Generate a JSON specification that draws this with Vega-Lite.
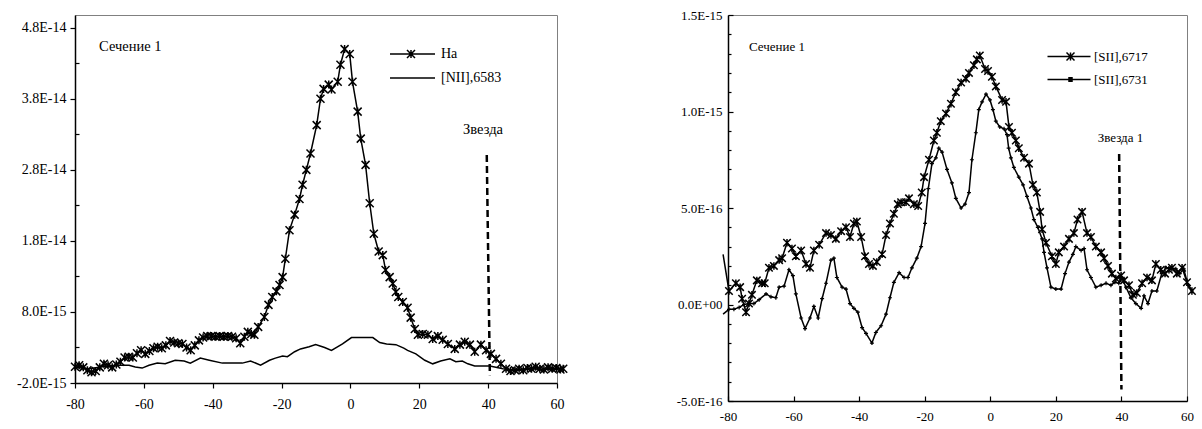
{
  "$schema": "https://vega.github.io/schema/vega-lite/v6.json",
  "background": "white",
  "padding": {"left": 16, "top": 8, "right": 5, "bottom": 5},
  "spacing": 102,
  "resolve": {"scale": {"color": "independent"}, "legend": {"color": "independent"}},
  "config": {
    "font": "Liberation Serif",
    "view": {"stroke": "#808080", "strokeWidth": 1},
    "axis": {"grid": false, "domainColor": "black", "tickColor": "black", "labelColor": "black", "labelFont": "Liberation Serif", "title": null, "domainWidth": 1.5, "tickWidth": 1.2, "labelOverlap": false, "labelBound": false, "labelFlush": false},
    "legend": {"labelFont": "Liberation Serif", "labelColor": "black", "padding": 0}
  },
  "datasets": {
    "left": [
      {"series":"Ha","x":-80,"y":0.3e-15},{"series":"Ha","x":-78.8,"y":0.5e-15},{"series":"Ha","x":-77.6,"y":0.2e-15},{"series":"Ha","x":-76.4,"y":-0.2e-15},{"series":"Ha","x":-75.2,"y":-0.5e-15},{"series":"Ha","x":-74,"y":-0.3e-15},{"series":"Ha","x":-72.8,"y":0.2e-15},{"series":"Ha","x":-71.6,"y":0.7e-15},{"series":"Ha","x":-70.4,"y":0.5e-15},{"series":"Ha","x":-69.2,"y":0.2e-15},{"series":"Ha","x":-68,"y":0.6e-15},{"series":"Ha","x":-66.8,"y":1.0e-15},{"series":"Ha","x":-65.6,"y":1.6e-15},{"series":"Ha","x":-64.4,"y":1.7e-15},{"series":"Ha","x":-63.2,"y":1.6e-15},{"series":"Ha","x":-62,"y":2.2e-15},{"series":"Ha","x":-60.8,"y":2.6e-15},{"series":"Ha","x":-59.6,"y":2.1e-15},{"series":"Ha","x":-58.4,"y":2.5e-15},{"series":"Ha","x":-57.2,"y":2.9e-15},{"series":"Ha","x":-56,"y":3.1e-15},{"series":"Ha","x":-54.8,"y":2.9e-15},{"series":"Ha","x":-53.6,"y":3.3e-15},{"series":"Ha","x":-52.4,"y":3.9e-15},{"series":"Ha","x":-51.2,"y":3.7e-15},{"series":"Ha","x":-50,"y":3.6e-15},{"series":"Ha","x":-48.8,"y":3.5e-15},{"series":"Ha","x":-47.6,"y":3.0e-15},{"series":"Ha","x":-46.4,"y":2.6e-15},{"series":"Ha","x":-45.2,"y":3.3e-15},{"series":"Ha","x":-44,"y":4.0e-15},{"series":"Ha","x":-42.8,"y":4.4e-15},{"series":"Ha","x":-41.6,"y":4.6e-15},{"series":"Ha","x":-40.4,"y":4.6e-15},{"series":"Ha","x":-39.2,"y":4.5e-15},{"series":"Ha","x":-38,"y":4.6e-15},{"series":"Ha","x":-36.8,"y":4.5e-15},{"series":"Ha","x":-35.6,"y":4.6e-15},{"series":"Ha","x":-34.4,"y":4.5e-15},{"series":"Ha","x":-33.2,"y":4.3e-15},{"series":"Ha","x":-32,"y":3.6e-15},{"series":"Ha","x":-30.8,"y":4.5e-15},{"series":"Ha","x":-29.8,"y":5.2e-15},{"series":"Ha","x":-28.8,"y":4.9e-15},{"series":"Ha","x":-27.9,"y":4.8e-15},{"series":"Ha","x":-26.8,"y":5.9e-15},{"series":"Ha","x":-25,"y":7.3e-15},{"series":"Ha","x":-23.8,"y":9.0e-15},{"series":"Ha","x":-22.7,"y":10.1e-15},{"series":"Ha","x":-21.5,"y":10.9e-15},{"series":"Ha","x":-20.6,"y":11.8e-15},{"series":"Ha","x":-19.7,"y":12.9e-15},{"series":"Ha","x":-18.9,"y":15.5e-15},{"series":"Ha","x":-17.7,"y":19.5e-15},{"series":"Ha","x":-16.2,"y":21.7e-15},{"series":"Ha","x":-14.8,"y":23.9e-15},{"series":"Ha","x":-13.9,"y":25.9e-15},{"series":"Ha","x":-12.8,"y":28.0e-15},{"series":"Ha","x":-11.6,"y":30.3e-15},{"series":"Ha","x":-9.8,"y":34.3e-15},{"series":"Ha","x":-8.7,"y":38.0e-15},{"series":"Ha","x":-7.8,"y":39.4e-15},{"series":"Ha","x":-6.3,"y":40.0e-15},{"series":"Ha","x":-5.5,"y":39.3e-15},{"series":"Ha","x":-3.7,"y":40.4e-15},{"series":"Ha","x":-2.9,"y":42.8e-15},{"series":"Ha","x":-1.7,"y":45.0e-15},{"series":"Ha","x":-0.2,"y":44.3e-15},{"series":"Ha","x":0.6,"y":40.4e-15},{"series":"Ha","x":2.1,"y":36.2e-15},{"series":"Ha","x":3.0,"y":32.4e-15},{"series":"Ha","x":4.4,"y":28.7e-15},{"series":"Ha","x":5.6,"y":23.3e-15},{"series":"Ha","x":6.8,"y":19.0e-15},{"series":"Ha","x":8.2,"y":16.5e-15},{"series":"Ha","x":9.4,"y":16.0e-15},{"series":"Ha","x":10.2,"y":13.9e-15},{"series":"Ha","x":11.4,"y":12.9e-15},{"series":"Ha","x":12.3,"y":12.0e-15},{"series":"Ha","x":13.2,"y":10.8e-15},{"series":"Ha","x":13.9,"y":10.1e-15},{"series":"Ha","x":15.2,"y":9.4e-15},{"series":"Ha","x":16.6,"y":8.6e-15},{"series":"Ha","x":17.5,"y":7.2e-15},{"series":"Ha","x":18.7,"y":5.6e-15},{"series":"Ha","x":19.6,"y":4.8e-15},{"series":"Ha","x":21,"y":4.9e-15},{"series":"Ha","x":22.5,"y":4.8e-15},{"series":"Ha","x":23.9,"y":4.2e-15},{"series":"Ha","x":25.4,"y":4.6e-15},{"series":"Ha","x":26.8,"y":4.1e-15},{"series":"Ha","x":28.3,"y":3.5e-15},{"series":"Ha","x":30.3,"y":2.8e-15},{"series":"Ha","x":31.8,"y":3.4e-15},{"series":"Ha","x":33.2,"y":3.8e-15},{"series":"Ha","x":34.7,"y":3.4e-15},{"series":"Ha","x":36.1,"y":2.4e-15},{"series":"Ha","x":37.9,"y":3.4e-15},{"series":"Ha","x":39.4,"y":2.6e-15},{"series":"Ha","x":40.8,"y":2.1e-15},{"series":"Ha","x":42.3,"y":1.4e-15},{"series":"Ha","x":43.7,"y":0.7e-15},{"series":"Ha","x":45.2,"y":0.0},{"series":"Ha","x":46.5,"y":-0.3e-15},{"series":"Ha","x":47.8,"y":-0.2e-15},{"series":"Ha","x":49,"y":0.0},{"series":"Ha","x":50.2,"y":-0.2e-15},{"series":"Ha","x":51.4,"y":0.1e-15},{"series":"Ha","x":52.6,"y":0.0},{"series":"Ha","x":53.8,"y":0.3e-15},{"series":"Ha","x":55,"y":0.0},{"series":"Ha","x":56.2,"y":-0.1e-15},{"series":"Ha","x":57.4,"y":0.2e-15},{"series":"Ha","x":58.6,"y":0.0},{"series":"Ha","x":59.8,"y":0.1e-15},{"series":"Ha","x":61,"y":-0.1e-15},{"series":"Ha","x":61.8,"y":0.0},
      {"series":"[NII],6583","x":-80,"y":0.2e-15},{"series":"[NII],6583","x":-76,"y":0.0},{"series":"[NII],6583","x":-72,"y":0.3e-15},{"series":"[NII],6583","x":-68,"y":0.5e-15},{"series":"[NII],6583","x":-64.3,"y":0.5e-15},{"series":"[NII],6583","x":-62.5,"y":0.25e-15},{"series":"[NII],6583","x":-60.5,"y":0.1e-15},{"series":"[NII],6583","x":-58.5,"y":0.5e-15},{"series":"[NII],6583","x":-56.1,"y":0.8e-15},{"series":"[NII],6583","x":-53.8,"y":0.7e-15},{"series":"[NII],6583","x":-50.9,"y":1.2e-15},{"series":"[NII],6583","x":-48.3,"y":1.1e-15},{"series":"[NII],6583","x":-46.5,"y":0.8e-15},{"series":"[NII],6583","x":-43.6,"y":1.5e-15},{"series":"[NII],6583","x":-41,"y":1.2e-15},{"series":"[NII],6583","x":-37.2,"y":0.8e-15},{"series":"[NII],6583","x":-31.4,"y":0.8e-15},{"series":"[NII],6583","x":-29,"y":1.1e-15},{"series":"[NII],6583","x":-26.1,"y":0.5e-15},{"series":"[NII],6583","x":-23.5,"y":1.2e-15},{"series":"[NII],6583","x":-21.8,"y":1.5e-15},{"series":"[NII],6583","x":-19.7,"y":1.8e-15},{"series":"[NII],6583","x":-18.3,"y":1.7e-15},{"series":"[NII],6583","x":-16.2,"y":2.4e-15},{"series":"[NII],6583","x":-14.5,"y":2.8e-15},{"series":"[NII],6583","x":-12,"y":3.1e-15},{"series":"[NII],6583","x":-10.1,"y":3.4e-15},{"series":"[NII],6583","x":-7.5,"y":3.0e-15},{"series":"[NII],6583","x":-5.5,"y":2.6e-15},{"series":"[NII],6583","x":-2.3,"y":3.5e-15},{"series":"[NII],6583","x":0.3,"y":4.4e-15},{"series":"[NII],6583","x":6.5,"y":4.4e-15},{"series":"[NII],6583","x":8.5,"y":3.7e-15},{"series":"[NII],6583","x":10.5,"y":3.5e-15},{"series":"[NII],6583","x":13.2,"y":3.4e-15},{"series":"[NII],6583","x":15.5,"y":2.9e-15},{"series":"[NII],6583","x":16.6,"y":2.6e-15},{"series":"[NII],6583","x":19,"y":2.1e-15},{"series":"[NII],6583","x":21.6,"y":1.2e-15},{"series":"[NII],6583","x":23.9,"y":0.7e-15},{"series":"[NII],6583","x":26.2,"y":1.1e-15},{"series":"[NII],6583","x":28.9,"y":1.4e-15},{"series":"[NII],6583","x":30.6,"y":1.0e-15},{"series":"[NII],6583","x":32.5,"y":1.1e-15},{"series":"[NII],6583","x":34.1,"y":0.7e-15},{"series":"[NII],6583","x":36.1,"y":0.4e-15},{"series":"[NII],6583","x":40.5,"y":0.4e-15},{"series":"[NII],6583","x":44.3,"y":0.0},{"series":"[NII],6583","x":48,"y":-0.2e-15},{"series":"[NII],6583","x":52,"y":0.0},{"series":"[NII],6583","x":56,"y":-0.1e-15},{"series":"[NII],6583","x":60,"y":0.0},{"series":"[NII],6583","x":61.8,"y":0.0}
    ],
    "right": [
      {"series":"[SII],6717","x":-81.5,"y":2.6e-16},{"series":"[SII],6717","x":-79.7,"y":0.7e-16},{"series":"[SII],6717","x":-77.6,"y":1.1e-16},{"series":"[SII],6717","x":-76.3,"y":0.9e-16},{"series":"[SII],6717","x":-75.7,"y":0.3e-16},{"series":"[SII],6717","x":-74.5,"y":-0.4e-16},{"series":"[SII],6717","x":-73.6,"y":0.05e-16},{"series":"[SII],6717","x":-72.7,"y":0.5e-16},{"series":"[SII],6717","x":-71.2,"y":1.25e-16},{"series":"[SII],6717","x":-69.6,"y":1.1e-16},{"series":"[SII],6717","x":-68.8,"y":1.1e-16},{"series":"[SII],6717","x":-67.5,"y":1.9e-16},{"series":"[SII],6717","x":-66,"y":2.0e-16},{"series":"[SII],6717","x":-64.4,"y":2.3e-16},{"series":"[SII],6717","x":-63.5,"y":2.4e-16},{"series":"[SII],6717","x":-62,"y":3.2e-16},{"series":"[SII],6717","x":-60.5,"y":2.9e-16},{"series":"[SII],6717","x":-59.3,"y":2.5e-16},{"series":"[SII],6717","x":-57.7,"y":2.8e-16},{"series":"[SII],6717","x":-56.2,"y":2.1e-16},{"series":"[SII],6717","x":-55,"y":1.9e-16},{"series":"[SII],6717","x":-53.8,"y":2.8e-16},{"series":"[SII],6717","x":-52.2,"y":3.1e-16},{"series":"[SII],6717","x":-50.1,"y":3.7e-16},{"series":"[SII],6717","x":-48.6,"y":3.6e-16},{"series":"[SII],6717","x":-47.1,"y":3.4e-16},{"series":"[SII],6717","x":-45.5,"y":3.8e-16},{"series":"[SII],6717","x":-44,"y":4.0e-16},{"series":"[SII],6717","x":-42.8,"y":3.5e-16},{"series":"[SII],6717","x":-41.6,"y":4.2e-16},{"series":"[SII],6717","x":-40.7,"y":4.3e-16},{"series":"[SII],6717","x":-39.4,"y":3.5e-16},{"series":"[SII],6717","x":-38.2,"y":2.5e-16},{"series":"[SII],6717","x":-37,"y":2.1e-16},{"series":"[SII],6717","x":-35.8,"y":2.0e-16},{"series":"[SII],6717","x":-34.6,"y":2.2e-16},{"series":"[SII],6717","x":-33,"y":2.6e-16},{"series":"[SII],6717","x":-31.8,"y":3.6e-16},{"series":"[SII],6717","x":-30.6,"y":4.2e-16},{"series":"[SII],6717","x":-29.4,"y":4.7e-16},{"series":"[SII],6717","x":-28.2,"y":5.2e-16},{"series":"[SII],6717","x":-27.2,"y":5.3e-16},{"series":"[SII],6717","x":-25.7,"y":5.3e-16},{"series":"[SII],6717","x":-24.8,"y":5.5e-16},{"series":"[SII],6717","x":-23.3,"y":5.2e-16},{"series":"[SII],6717","x":-22,"y":5.1e-16},{"series":"[SII],6717","x":-20.9,"y":5.8e-16},{"series":"[SII],6717","x":-20.2,"y":6.6e-16},{"series":"[SII],6717","x":-18.7,"y":7.5e-16},{"series":"[SII],6717","x":-17.2,"y":8.5e-16},{"series":"[SII],6717","x":-16.3,"y":8.9e-16},{"series":"[SII],6717","x":-15.1,"y":9.5e-16},{"series":"[SII],6717","x":-13.5,"y":9.9e-16},{"series":"[SII],6717","x":-12,"y":10.4e-16},{"series":"[SII],6717","x":-10.5,"y":11.0e-16},{"series":"[SII],6717","x":-8.9,"y":11.5e-16},{"series":"[SII],6717","x":-7.4,"y":11.7e-16},{"series":"[SII],6717","x":-6.5,"y":12.0e-16},{"series":"[SII],6717","x":-5,"y":12.4e-16},{"series":"[SII],6717","x":-4.1,"y":12.7e-16},{"series":"[SII],6717","x":-3.2,"y":12.9e-16},{"series":"[SII],6717","x":-1.6,"y":12.2e-16},{"series":"[SII],6717","x":-0.7,"y":12.1e-16},{"series":"[SII],6717","x":0.5,"y":11.8e-16},{"series":"[SII],6717","x":1.7,"y":11.3e-16},{"series":"[SII],6717","x":3.6,"y":10.6e-16},{"series":"[SII],6717","x":4.8,"y":10.5e-16},{"series":"[SII],6717","x":5.7,"y":9.2e-16},{"series":"[SII],6717","x":6.6,"y":8.9e-16},{"series":"[SII],6717","x":7.8,"y":8.5e-16},{"series":"[SII],6717","x":8.7,"y":8.1e-16},{"series":"[SII],6717","x":10.3,"y":7.6e-16},{"series":"[SII],6717","x":11.8,"y":7.3e-16},{"series":"[SII],6717","x":13,"y":6.2e-16},{"series":"[SII],6717","x":14.2,"y":5.8e-16},{"series":"[SII],6717","x":15.2,"y":4.8e-16},{"series":"[SII],6717","x":15.8,"y":3.9e-16},{"series":"[SII],6717","x":17,"y":3.2e-16},{"series":"[SII],6717","x":18.8,"y":2.5e-16},{"series":"[SII],6717","x":20,"y":2.1e-16},{"series":"[SII],6717","x":20.9,"y":2.7e-16},{"series":"[SII],6717","x":22.5,"y":3.0e-16},{"series":"[SII],6717","x":24,"y":3.4e-16},{"series":"[SII],6717","x":25.5,"y":3.7e-16},{"series":"[SII],6717","x":26.6,"y":4.4e-16},{"series":"[SII],6717","x":28,"y":4.8e-16},{"series":"[SII],6717","x":29.5,"y":3.7e-16},{"series":"[SII],6717","x":30.7,"y":3.5e-16},{"series":"[SII],6717","x":32.2,"y":3.0e-16},{"series":"[SII],6717","x":33.8,"y":2.7e-16},{"series":"[SII],6717","x":34.7,"y":2.4e-16},{"series":"[SII],6717","x":35.9,"y":2.0e-16},{"series":"[SII],6717","x":37.1,"y":1.6e-16},{"series":"[SII],6717","x":38.3,"y":1.35e-16},{"series":"[SII],6717","x":39.9,"y":1.5e-16},{"series":"[SII],6717","x":40.8,"y":1.25e-16},{"series":"[SII],6717","x":42.3,"y":1.0e-16},{"series":"[SII],6717","x":43.5,"y":0.5e-16},{"series":"[SII],6717","x":44.7,"y":0.6e-16},{"series":"[SII],6717","x":46.3,"y":1.1e-16},{"series":"[SII],6717","x":47.8,"y":1.4e-16},{"series":"[SII],6717","x":49.3,"y":1.25e-16},{"series":"[SII],6717","x":50.5,"y":2.1e-16},{"series":"[SII],6717","x":52,"y":1.8e-16},{"series":"[SII],6717","x":53.3,"y":1.6e-16},{"series":"[SII],6717","x":54.5,"y":1.8e-16},{"series":"[SII],6717","x":55.4,"y":1.9e-16},{"series":"[SII],6717","x":56.9,"y":1.6e-16},{"series":"[SII],6717","x":58.5,"y":1.9e-16},{"series":"[SII],6717","x":60,"y":1.15e-16},{"series":"[SII],6717","x":61.5,"y":0.7e-16},
      {"series":"[SII],6731","x":-81.5,"y":-0.5e-16},{"series":"[SII],6731","x":-79.7,"y":-0.25e-16},{"series":"[SII],6731","x":-78.2,"y":-0.25e-16},{"series":"[SII],6731","x":-76.6,"y":-0.15e-16},{"series":"[SII],6731","x":-75.1,"y":0.0},{"series":"[SII],6731","x":-73.6,"y":0.05e-16},{"series":"[SII],6731","x":-72.1,"y":0.05e-16},{"series":"[SII],6731","x":-70.5,"y":0.25e-16},{"series":"[SII],6731","x":-68.4,"y":0.55e-16},{"series":"[SII],6731","x":-66.9,"y":0.4e-16},{"series":"[SII],6731","x":-65.4,"y":0.35e-16},{"series":"[SII],6731","x":-64.4,"y":0.9e-16},{"series":"[SII],6731","x":-62.9,"y":0.95e-16},{"series":"[SII],6731","x":-61.4,"y":1.8e-16},{"series":"[SII],6731","x":-60.2,"y":1.5e-16},{"series":"[SII],6731","x":-59.3,"y":0.55e-16},{"series":"[SII],6731","x":-57.7,"y":-0.7e-16},{"series":"[SII],6731","x":-56.5,"y":-1.25e-16},{"series":"[SII],6731","x":-55,"y":-0.7e-16},{"series":"[SII],6731","x":-53.8,"y":-0.1e-16},{"series":"[SII],6731","x":-52.5,"y":-0.7e-16},{"series":"[SII],6731","x":-51.3,"y":0.3e-16},{"series":"[SII],6731","x":-50.1,"y":1.1e-16},{"series":"[SII],6731","x":-48.6,"y":2.3e-16},{"series":"[SII],6731","x":-47.7,"y":2.4e-16},{"series":"[SII],6731","x":-46.8,"y":1.4e-16},{"series":"[SII],6731","x":-45.2,"y":0.9e-16},{"series":"[SII],6731","x":-44,"y":0.8e-16},{"series":"[SII],6731","x":-42.8,"y":0.05e-16},{"series":"[SII],6731","x":-41.6,"y":-0.2e-16},{"series":"[SII],6731","x":-40.4,"y":-0.4e-16},{"series":"[SII],6731","x":-39.1,"y":-1.2e-16},{"series":"[SII],6731","x":-37.9,"y":-1.5e-16},{"series":"[SII],6731","x":-36.1,"y":-2.0e-16},{"series":"[SII],6731","x":-34.9,"y":-1.45e-16},{"series":"[SII],6731","x":-33.3,"y":-1.1e-16},{"series":"[SII],6731","x":-31.8,"y":-0.5e-16},{"series":"[SII],6731","x":-30.6,"y":0.35e-16},{"series":"[SII],6731","x":-29.4,"y":1.15e-16},{"series":"[SII],6731","x":-27.8,"y":1.65e-16},{"series":"[SII],6731","x":-26.3,"y":1.4e-16},{"series":"[SII],6731","x":-25.1,"y":1.4e-16},{"series":"[SII],6731","x":-23.9,"y":1.9e-16},{"series":"[SII],6731","x":-22.4,"y":2.4e-16},{"series":"[SII],6731","x":-21.1,"y":3.0e-16},{"series":"[SII],6731","x":-19.9,"y":4.2e-16},{"series":"[SII],6731","x":-18.9,"y":6.0e-16},{"series":"[SII],6731","x":-17.8,"y":7.3e-16},{"series":"[SII],6731","x":-16.6,"y":7.6e-16},{"series":"[SII],6731","x":-15.7,"y":8.1e-16},{"series":"[SII],6731","x":-14.7,"y":7.9e-16},{"series":"[SII],6731","x":-13.2,"y":7.0e-16},{"series":"[SII],6731","x":-11.7,"y":6.3e-16},{"series":"[SII],6731","x":-10.5,"y":5.5e-16},{"series":"[SII],6731","x":-8.9,"y":5.0e-16},{"series":"[SII],6731","x":-7.7,"y":5.2e-16},{"series":"[SII],6731","x":-6.5,"y":5.8e-16},{"series":"[SII],6731","x":-5.6,"y":7.5e-16},{"series":"[SII],6731","x":-4.4,"y":8.9e-16},{"series":"[SII],6731","x":-3.5,"y":10.1e-16},{"series":"[SII],6731","x":-2.5,"y":10.5e-16},{"series":"[SII],6731","x":-1.3,"y":10.9e-16},{"series":"[SII],6731","x":-0.1,"y":10.6e-16},{"series":"[SII],6731","x":0.8,"y":10.1e-16},{"series":"[SII],6731","x":1.7,"y":9.5e-16},{"series":"[SII],6731","x":2.9,"y":9.2e-16},{"series":"[SII],6731","x":4.2,"y":9.1e-16},{"series":"[SII],6731","x":5.1,"y":8.8e-16},{"series":"[SII],6731","x":5.6,"y":8.1e-16},{"series":"[SII],6731","x":6.3,"y":7.6e-16},{"series":"[SII],6731","x":7.2,"y":7.1e-16},{"series":"[SII],6731","x":8.7,"y":6.6e-16},{"series":"[SII],6731","x":10,"y":6.2e-16},{"series":"[SII],6731","x":11.2,"y":5.6e-16},{"series":"[SII],6731","x":12.4,"y":5.0e-16},{"series":"[SII],6731","x":13.3,"y":4.4e-16},{"series":"[SII],6731","x":14.5,"y":4.0e-16},{"series":"[SII],6731","x":15.8,"y":3.4e-16},{"series":"[SII],6731","x":16.4,"y":2.7e-16},{"series":"[SII],6731","x":17.3,"y":1.9e-16},{"series":"[SII],6731","x":18.5,"y":0.9e-16},{"series":"[SII],6731","x":20,"y":0.8e-16},{"series":"[SII],6731","x":21.6,"y":0.8e-16},{"series":"[SII],6731","x":22.8,"y":1.6e-16},{"series":"[SII],6731","x":24,"y":2.2e-16},{"series":"[SII],6731","x":25.2,"y":2.6e-16},{"series":"[SII],6731","x":26.1,"y":3.0e-16},{"series":"[SII],6731","x":27.7,"y":2.8e-16},{"series":"[SII],6731","x":28.6,"y":2.9e-16},{"series":"[SII],6731","x":29.5,"y":1.8e-16},{"series":"[SII],6731","x":30.7,"y":1.4e-16},{"series":"[SII],6731","x":32.2,"y":0.9e-16},{"series":"[SII],6731","x":33.8,"y":1.0e-16},{"series":"[SII],6731","x":35.3,"y":1.1e-16},{"series":"[SII],6731","x":36.8,"y":1.0e-16},{"series":"[SII],6731","x":38,"y":1.15e-16},{"series":"[SII],6731","x":39.2,"y":1.1e-16},{"series":"[SII],6731","x":40.2,"y":1.35e-16},{"series":"[SII],6731","x":41.4,"y":0.9e-16},{"series":"[SII],6731","x":42.9,"y":0.35e-16},{"series":"[SII],6731","x":44.4,"y":0.05e-16},{"series":"[SII],6731","x":46,"y":-0.2e-16},{"series":"[SII],6731","x":46.9,"y":0.45e-16},{"series":"[SII],6731","x":48.1,"y":0.05e-16},{"series":"[SII],6731","x":49.3,"y":0.7e-16},{"series":"[SII],6731","x":50.8,"y":0.7e-16},{"series":"[SII],6731","x":52.3,"y":1.6e-16},{"series":"[SII],6731","x":53.6,"y":1.9e-16},{"series":"[SII],6731","x":55.1,"y":1.9e-16},{"series":"[SII],6731","x":56.6,"y":1.85e-16},{"series":"[SII],6731","x":57.8,"y":1.6e-16},{"series":"[SII],6731","x":59,"y":1.85e-16},{"series":"[SII],6731","x":60.3,"y":1.0e-16},{"series":"[SII],6731","x":61.5,"y":0.7e-16}
    ]
  },
  "hconcat": [
    {
      "width": 482,
      "height": 368,
      "layer": [
        {
          "data": {"name": "left"},
          "mark": {"type": "line", "strokeWidth": 1.5, "color": "black", "clip": false},
          "encoding": {
            "x": {"field": "x", "type": "quantitative",
              "scale": {"domain": [-80, 60], "nice": false, "zero": false},
              "axis": {"values": [-80, -60, -40, -20, 0, 20, 40, 60], "tickCount": 50, "labelExpr": "'' + datum.value", "labelFontSize": 14, "tickSize": 5, "labelPadding": 9, "labelOverlap": false, "labelFlush": false}},
            "y": {"field": "y", "type": "quantitative",
              "scale": {"domain": [-2e-15, 4.98e-14], "nice": false, "zero": false},
              "axis": {"values": [-2e-15, 3e-15, 8e-15, 1.3e-14, 1.8e-14, 2.3e-14, 2.8e-14, 3.3e-14, 3.8e-14, 4.3e-14, 4.8e-14], "tickCount": 50,
                "labelExpr": "replace(replace(format(datum.value, '.1e'), 'e', 'E'), '\u2212', '-')",
                "labelOpacity": {"condition": {"test": "abs((datum.value + 2e-15) / 1e-14 - round((datum.value + 2e-15) / 1e-14)) < 0.01", "value": 1}, "value": 0},
                "labelFontSize": 14, "labelPadding": 4, "labelOverlap": false,
                "tickSize": {"condition": {"test": "abs((datum.value + 2e-15) / 1e-14 - round((datum.value + 2e-15) / 1e-14)) < 0.01", "value": 5}, "value": -4}}},
            "color": {"field": "series", "type": "nominal",
              "scale": {"domain": ["Ha", "[NII],6583"], "range": ["black", "black"]},
              "legend": {"title": null, "orient": "none", "legendX": 348, "legendY": 32, "labelFontSize": 14, "labelOffset": 4, "symbolSize": 100, "rowPadding": 10,
                "encode": {"symbols": {"update": {
                  "shape": {"signal": "datum.value === 'Ha' ? 'M-8,0L1,0M-4.6,-0.8L-3,0.8M-4.6,0.8L-3,-0.8M-3.8,-0.8L-3.8,0.8' : 'M-8,0L1,0'"},
                  "stroke": {"value": "black"}, "strokeWidth": {"value": 1.5}, "fill": {"value": "transparent"}}}}}}
          }
        },
        {
          "data": {"name": "left"},
          "transform": [{"filter": "datum.series === 'Ha'"}],
          "mark": {"type": "point", "shape": "M-1,-1L1,1M-1,1L1,-1M0,-1L0,1", "filled": false, "stroke": "black", "strokeWidth": 1.5, "size": 64, "opacity": 1, "clip": false},
          "encoding": {
            "x": {"field": "x", "type": "quantitative"},
            "y": {"field": "y", "type": "quantitative"}
          }
        },
        {
          "data": {"values": [{"x": 39.6, "x2": 40.5, "y": 3.01e-14, "y2": -0.9e-15}]},
          "mark": {"type": "rule", "color": "black", "strokeWidth": 2.5, "strokeDash": [7, 4], "clip": false},
          "encoding": {
            "x": {"field": "x", "type": "quantitative"},
            "x2": {"field": "x2"},
            "y": {"field": "y", "type": "quantitative"},
            "y2": {"field": "y2"}
          }
        },
        {
          "data": {"values": [{"label": "Сечение 1", "x": -73, "y": 4.53e-14}]},
          "mark": {"type": "text", "font": "Liberation Serif", "fontSize": 14.5, "color": "black", "baseline": "middle", "align": "left"},
          "encoding": {
            "x": {"field": "x", "type": "quantitative"},
            "y": {"field": "y", "type": "quantitative"},
            "text": {"field": "label"}
          }
        },
        {
          "data": {"values": [{"label": "Звезда", "x": 38.5, "y": 3.36e-14}]},
          "mark": {"type": "text", "font": "Liberation Serif", "fontSize": 14.5, "color": "black", "baseline": "middle", "align": "center"},
          "encoding": {
            "x": {"field": "x", "type": "quantitative"},
            "y": {"field": "y", "type": "quantitative"},
            "text": {"field": "label"}
          }
        }
      ]
    },
    {
      "width": 459,
      "height": 386,
      "layer": [
        {
          "data": {"name": "right"},
          "mark": {"type": "line", "strokeWidth": 1.5, "color": "black", "clip": false},
          "encoding": {
            "x": {"field": "x", "type": "quantitative",
              "scale": {"domain": [-80, 60], "nice": false, "zero": false},
              "axis": {"values": [-80, -60, -40, -20, 0, 20, 40, 60], "tickCount": 50, "labelExpr": "'' + datum.value", "labelFontSize": 13, "tickSize": -5, "labelPadding": 14, "labelOverlap": false, "labelFlush": false}},
            "y": {"field": "y", "type": "quantitative",
              "scale": {"domain": [-5e-16, 1.5e-15], "nice": false, "zero": false},
              "axis": {"values": [-5e-16, -4e-16, -3e-16, -2e-16, -1e-16, 0, 1e-16, 2e-16, 3e-16, 4e-16, 5e-16, 6e-16, 7e-16, 8e-16, 9e-16, 1e-15, 1.1e-15, 1.2e-15, 1.3e-15, 1.4e-15, 1.5e-15], "tickCount": 50,
                "labelExpr": "abs(datum.value) < 1e-20 ? '0.0E+00' : replace(replace(format(datum.value, '.1e'), 'e', 'E'), '\u2212', '-')",
                "labelOpacity": {"condition": {"test": "abs(datum.value / 5e-16 - round(datum.value / 5e-16)) < 0.01", "value": 1}, "value": 0},
                "labelFontSize": 13, "labelPadding": 11, "labelOverlap": false,
                "tickSize": {"condition": {"test": "abs(datum.value / 5e-16 - round(datum.value / 5e-16)) < 0.01", "value": -5}, "value": -3}}},
            "color": {"field": "series", "type": "nominal",
              "scale": {"domain": ["[SII],6717", "[SII],6731"], "range": ["black", "black"]},
              "legend": {"title": null, "orient": "none", "legendX": 349, "legendY": 35, "labelFontSize": 13, "labelOffset": 4, "symbolSize": 100, "rowPadding": 9,
                "encode": {"symbols": {"update": {
                  "shape": {"signal": "datum.value === '[SII],6717' ? 'M-7.2,0L1.4,0M-3.4,-0.8L-1.8,0.8M-3.4,0.8L-1.8,-0.8M-2.6,-0.8L-2.6,0.8' : 'M-7.2,0L1.4,0M-2.9,-0.35L-2.3,-0.35L-2.3,0.35L-2.9,0.35Z'"},
                  "stroke": {"value": "black"}, "strokeWidth": {"value": 1.5}, "fill": {"value": "black"}}}}}}
          }
        },
        {
          "data": {"name": "right"},
          "transform": [{"filter": "datum.series === '[SII],6717' && datum.x >= -80"}],
          "mark": {"type": "point", "shape": "M-1,-1L1,1M-1,1L1,-1M0,-1L0,1", "filled": false, "stroke": "black", "strokeWidth": 1.5, "size": 56, "opacity": 1, "clip": false},
          "encoding": {
            "x": {"field": "x", "type": "quantitative"},
            "y": {"field": "y", "type": "quantitative"}
          }
        },
        {
          "data": {"name": "right"},
          "transform": [{"filter": "datum.series === '[SII],6731' && datum.x >= -80"}],
          "mark": {"type": "point", "shape": "M-1,0L1,0M0,-1L0,1", "filled": false, "stroke": "black", "strokeWidth": 1.2, "size": 16, "opacity": 1, "clip": false},
          "encoding": {
            "x": {"field": "x", "type": "quantitative"},
            "y": {"field": "y", "type": "quantitative"}
          }
        },
        {
          "data": {"values": [{"x": 39.3, "x2": 40, "y": 7.8e-16, "y2": -4.4e-16}]},
          "mark": {"type": "rule", "color": "black", "strokeWidth": 2.5, "strokeDash": [7, 4], "clip": false},
          "encoding": {
            "x": {"field": "x", "type": "quantitative"},
            "x2": {"field": "x2"},
            "y": {"field": "y", "type": "quantitative"},
            "y2": {"field": "y2"}
          }
        },
        {
          "data": {"values": [{"label": "Сечение 1", "x": -73.6, "y": 1.335e-15}]},
          "mark": {"type": "text", "font": "Liberation Serif", "fontSize": 13, "color": "black", "baseline": "middle", "align": "left"},
          "encoding": {
            "x": {"field": "x", "type": "quantitative"},
            "y": {"field": "y", "type": "quantitative"},
            "text": {"field": "label"}
          }
        },
        {
          "data": {"values": [{"label": "Звезда 1", "x": 39.7, "y": 8.62e-16}]},
          "mark": {"type": "text", "font": "Liberation Serif", "fontSize": 13, "color": "black", "baseline": "middle", "align": "center"},
          "encoding": {
            "x": {"field": "x", "type": "quantitative"},
            "y": {"field": "y", "type": "quantitative"},
            "text": {"field": "label"}
          }
        }
      ]
    }
  ]
}
